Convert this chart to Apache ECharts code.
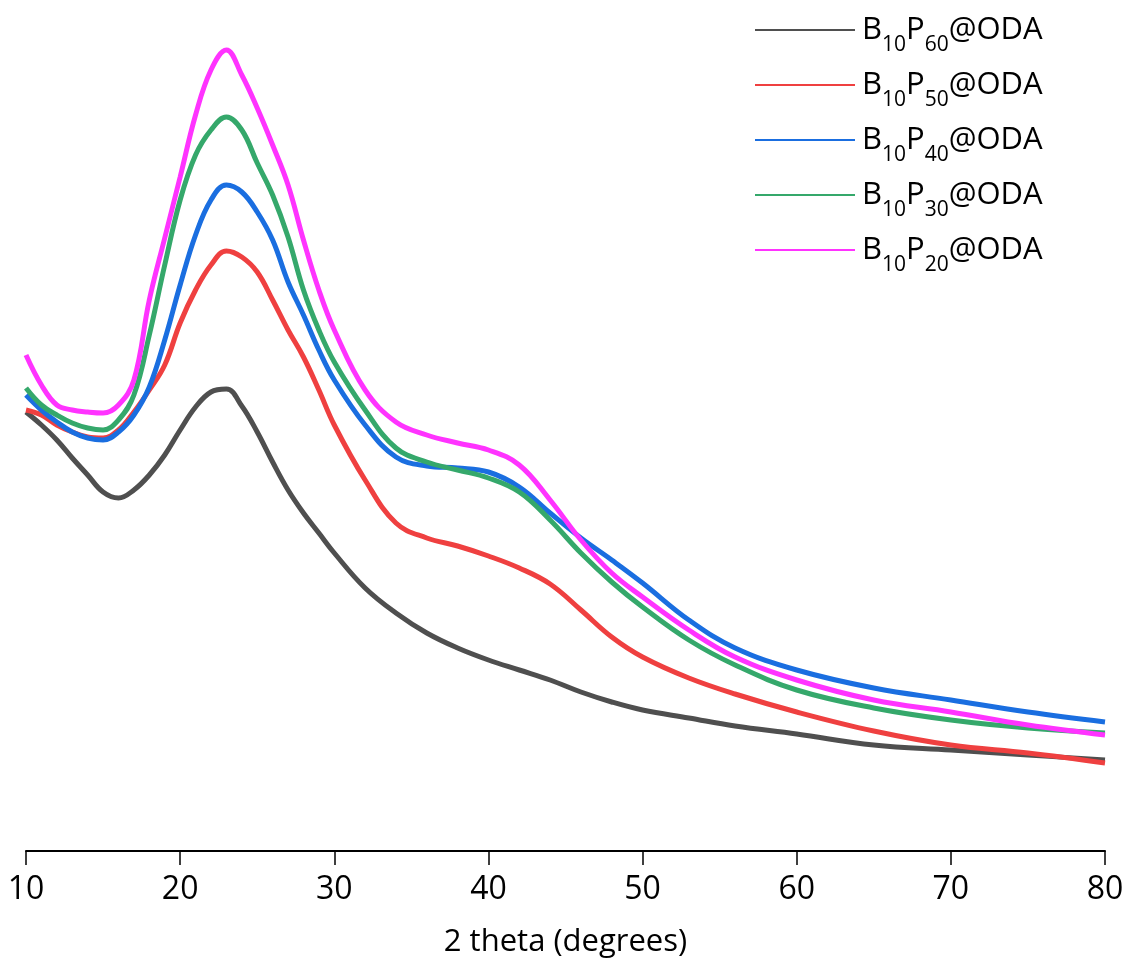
<!DOCTYPE html>
<html>
<head>
<meta charset="utf-8">
<script src="https://cdn.jsdelivr.net/npm/echarts@6/dist/echarts.min.js"></script>
<style>
  html, body { margin: 0; padding: 0; background: #fff; }
  #chart-container { width: 1134px; height: 965px; }
</style>
</head>
<body>
<div id="chart-container"></div>
<script>
// 2 theta positions shared by all patterns
const twoTheta = [10, 11, 12, 13, 14, 15, 16, 17, 18, 19, 20, 21, 22, 23, 24, 25, 26, 27, 28, 29, 30,
                  32, 34, 36, 38, 40, 42, 44, 46, 48, 50, 53, 56, 60, 65, 70, 75, 80];

// intensities (a.u.)
const p60 = [439, 426, 411, 393, 376, 359, 353, 361, 376, 396, 421, 444, 459, 462, 445, 419, 389, 361, 338, 318, 298,
             263, 238, 218, 203, 191, 181, 171, 159, 149, 141, 133, 125, 117, 106, 101, 96, 91];
const p50 = [441, 436, 426, 419, 414, 413, 421, 439, 461, 486, 528, 561, 586, 600, 594, 579, 551, 521, 494, 461, 426,
             371, 328, 313, 305, 295, 283, 267, 241, 214, 194, 173, 157, 139, 120, 106, 98, 88];
const p40 = [456, 441, 429, 419, 413, 411, 419, 436, 464, 511, 566, 616, 651, 666, 659, 639, 611, 569, 536, 501, 471,
             426, 394, 385, 383, 379, 364, 338, 313, 291, 268, 231, 203, 181, 163, 151, 139, 129];
const p30 = [463, 446, 436, 428, 423, 421, 431, 456, 516, 586, 651, 696, 721, 734, 721, 688, 656, 614, 561, 521, 489,
             441, 403, 389, 381, 373, 359, 331, 298, 269, 244, 211, 186, 161, 143, 131, 123, 118];
const p20 = [496, 466, 446, 441, 439, 438, 446, 471, 551, 613, 674, 736, 781, 801, 776, 743, 706, 666, 611, 561, 521,
             461, 429, 416, 408, 401, 386, 351, 311, 278, 254, 221, 194, 171, 151, 139, 126, 116];

const seriesNames = ['B10P60@ODA', 'B10P50@ODA', 'B10P40@ODA', 'B10P30@ODA', 'B10P20@ODA'];
const subscripts = [['10', '60'], ['10', '50'], ['10', '40'], ['10', '30'], ['10', '20']];
const colors = ['#4f4f4f', '#ef4040', '#1a6ee0', '#35a86b', '#ff33ff'];
const xTicks = [10, 20, 30, 40, 50, 60, 70, 80];

const values = [p60, p50, p40, p30, p20];

function pairs(ys) {
    return twoTheta.map((x, i) => [x, ys[i]]);
}

const chartDom = document.getElementById('chart-container');
const myChart = echarts.init(chartDom, null, {renderer: 'canvas'});

const fontFamily = '"Open Sans", "Noto Sans", sans-serif';

const series = seriesNames.map((name, i) => ({
    name: name,
    type: 'line',
    data: pairs(values[i]),
    showSymbol: false,
    smooth: 0.4,
    lineStyle: {color: colors[i], width: 5},
    itemStyle: {color: colors[i]},
    animation: false
}));

const option = {
    animation: false,
    backgroundColor: '#ffffff',
    grid: {left: 26, right: 29, top: 20, bottom: 114},
    legend: {
        orient: 'vertical',
        left: 750,
        top: 10,
        icon: 'rect',
        itemWidth: 100,
        itemHeight: 2,
        itemGap: 14,
        data: seriesNames,
        formatter: function (name) {
            const i = seriesNames.indexOf(name);
            return '{b|B}{s|' + subscripts[i][0] + '}{b|P}{s|' + subscripts[i][1] + '}{b|@ODA}';
        },
        textStyle: {
            padding: [0, 0, 0, 2],
            rich: {
                b: {fontSize: 31, lineHeight: 30, verticalAlign: 'top', color: '#000', fontFamily: fontFamily},
                s: {fontSize: 21, lineHeight: 20, verticalAlign: 'top', padding: [20, 0, 0, 0], color: '#000', fontFamily: fontFamily}
            }
        }
    },
    xAxis: {
        type: 'value',
        min: 10,
        max: 80,
        interval: 10,
        name: '2 theta (degrees)',
        nameLocation: 'middle',
        nameGap: 76,
        nameTextStyle: {fontSize: 31, color: '#000', fontFamily: fontFamily},
        axisLine: {lineStyle: {color: '#000', width: 2}},
        axisTick: {length: 14, lineStyle: {color: '#000', width: 1.5}},
        axisLabel: {
            fontSize: 32, color: '#000', margin: 23, fontFamily: fontFamily,
            formatter: function (v) { return xTicks.indexOf(v) >= 0 ? String(v) : ''; }
        },
        splitLine: {show: false}
    },
    yAxis: {
        type: 'value',
        min: 0,
        max: 831,
        show: false
    },
    series: series
};

option && myChart.setOption(option, true);
</script>
</body>
</html>
